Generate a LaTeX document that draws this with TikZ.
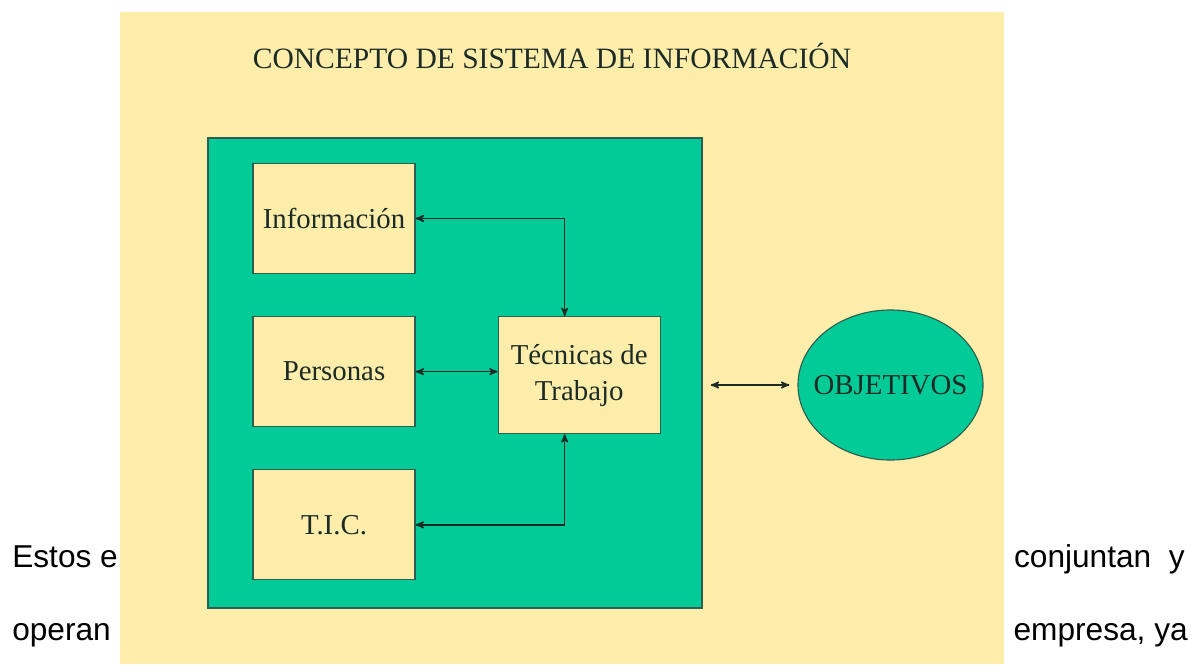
\documentclass[tikz,border=0pt]{standalone}
\usepackage{fontspec}
\setmainfont{Liberation Serif}
\newfontfamily\textofont{Liberation Sans}
\usetikzlibrary{arrows,positioning,shapes.geometric}
\definecolor{amarillo}{HTML}{FDEDAA}
\definecolor{verde}{HTML}{03CB97}
\definecolor{borde}{HTML}{2E5E50}
\definecolor{tinta}{HTML}{1C2B26}
\tikzset{
	caja/.style={draw=borde,fill=amarillo,line width=0.8pt,minimum width=4.05cm,minimum height=2.75cm,inner sep=0pt,align=center,font=\fontsize{20.5}{25.5}\selectfont,text=tinta},
	flecha/.style={<->,draw=tinta,line width=1.1pt},
	parrafo/.style={anchor=base west,inner sep=0pt,font=\textofont\fontsize{22.5}{27}\selectfont}
}
\begin{document}
\begin{tikzpicture}[x=0.025cm,y=-0.025cm,>=stealth',node distance=1.05cm]

\useasboundingbox (0,0) rectangle (1195,664);
\fill[amarillo] (120,12) rectangle (1004,664);

\node[anchor=base,inner sep=0pt,font=\fontsize{21}{25}\selectfont,text=tinta] (titulo) at (552,68) {CONCEPTO DE SISTEMA DE INFORMACIÓN};
	\node[draw=borde,fill=verde,line width=1pt,minimum width=12.35cm,minimum height=11.75cm] (sistema) at (455,373) {};

\node[caja]   (info)      at (334,218.5)  {Información};
	\node[caja]   (personas) [below=of info]    {Personas};
	\node[caja]   (tic)      [below=of personas]    {T.I.C.};
		\node[caja,minimum height=2.925cm]   (tecnicas) [right=2.05cm of personas.north east,anchor=north west]   {Técnicas de\\Trabajo};
		\node[ellipse,draw=borde,fill=verde,line width=0.8pt,minimum width=4.625cm,minimum height=3.75cm,inner sep=0pt,font=\fontsize{20.5}{25}\selectfont,text=tinta]   (objetivos) at (890.5,385)   {\makebox[2cm]{OBJETIVOS}};

	\draw[flecha] (info) -| ([xshift=-0.3625cm]tecnicas.north);
	\draw[flecha] (personas.east) -- (personas.east -| tecnicas.west);
	\draw[flecha] (tic) -| ([xshift=-0.3625cm]tecnicas.south);
	\draw[flecha,shorten <=0.2cm,shorten >=0.2cm] (objetivos.west -| sistema.east) -- (objetivos.west);

\node[parrafo] (p1) at (12,567)   {Estos e};
	\node[parrafo] (p2) at (12,640)   {operan};
	\node[parrafo,anchor=base east] (p3) at (1185,567)   {conjuntan\ \ y};
	\node[parrafo,anchor=base east] (p4) at (1188,640)   {empresa, ya};

\end{tikzpicture}
\end{document}
